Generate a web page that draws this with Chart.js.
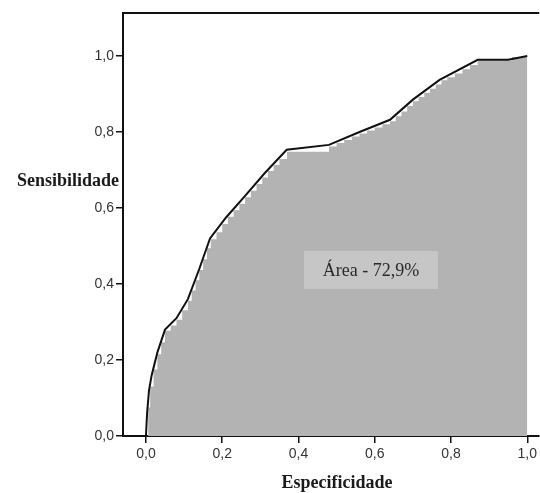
<!DOCTYPE html>
<html>
<head>
<meta charset="utf-8">
<script src="https://cdn.jsdelivr.net/npm/chart.js@4"></script>
<style>
  html, body { margin: 0; padding: 0; background: #fff; }
  #roc { display: block; }
</style>
</head>
<body>
<canvas id="roc" width="540" height="493"></canvas>
<script>
// curva ROC (linha preta)
const curvaX = [0, 0.003, 0.008, 0.015, 0.03, 0.05, 0.08, 0.11, 0.14, 0.168, 0.21, 0.26, 0.31, 0.369, 0.48, 0.56, 0.64, 0.70, 0.77, 0.87, 0.95, 1.0];
const curvaY = [0, 0.06, 0.12, 0.16, 0.22, 0.28, 0.31, 0.36, 0.44, 0.52, 0.575, 0.632, 0.69, 0.753, 0.766, 0.80, 0.832, 0.885, 0.937, 0.99, 0.99, 1.0];

// degraus da área cinza
const degrausX = [0.004, 0.006, 0.011, 0.02, 0.03, 0.04, 0.05,
  0.065, 0.08, 0.095, 0.11, 0.12, 0.13, 0.14, 0.15, 0.16, 0.17,
  0.185, 0.20, 0.215, 0.23, 0.245, 0.26, 0.275, 0.29, 0.305, 0.32, 0.335, 0.35, 0.37,
  0.48, 0.50, 0.52, 0.54, 0.56, 0.58, 0.60, 0.62, 0.64,
  0.655, 0.67, 0.685, 0.70, 0.715, 0.73, 0.745, 0.76, 0.775,
  0.79, 0.81, 0.83, 0.85, 0.87, 0.96, 1.0];
const degrausY = [0, 0.075, 0.13, 0.175, 0.215, 0.247, 0.277,
  0.291, 0.306, 0.331, 0.356, 0.383, 0.41, 0.437, 0.465, 0.494, 0.518,
  0.536, 0.558, 0.577, 0.594, 0.611, 0.628, 0.645, 0.663, 0.68, 0.697, 0.713, 0.729, 0.748,
  0.762, 0.771, 0.779, 0.788, 0.796, 0.804, 0.812, 0.82, 0.828,
  0.841, 0.854, 0.868, 0.881, 0.892, 0.903, 0.914, 0.925, 0.936,
  0.944, 0.954, 0.965, 0.976, 0.988, 0.997, 0.997];

const ticksValores = [0, 0.2, 0.4, 0.6, 0.8, 1.0];
const ticksRotulos = ['0,0', '0,2', '0,4', '0,6', '0,8', '1,0'];
const textoArea = 'Área - 72,9%';

const curva = curvaX.map((x, i) => ({ x: x, y: curvaY[i] }));
const degraus = degrausX.map((x, i) => ({ x: x, y: degrausY[i] }));

// moldura, títulos e caixa da área
const extras = {
  id: 'extras',
  afterDatasetsDraw(chart) {
    const ctx = chart.ctx;
    const xs = chart.scales.x, ys = chart.scales.y;
    const cx = xs.getPixelForValue(0.59), cy = ys.getPixelForValue(0.437);
    ctx.save();
    ctx.fillStyle = '#c6c6c6';
    ctx.fillRect(cx - 67, cy - 19, 134, 38);
    ctx.fillStyle = '#2a2a2a';
    ctx.font = '18px "Liberation Serif"';
    ctx.textAlign = 'center';
    ctx.textBaseline = 'middle';
    ctx.fillText(textoArea, cx, cy + 1);
    ctx.restore();
  },
  afterDraw(chart) {
    const ctx = chart.ctx;
    const a = chart.chartArea;
    ctx.save();
    ctx.strokeStyle = '#111';
    ctx.lineWidth = 2;
    ctx.beginPath();
    ctx.moveTo(a.left, a.top);
    ctx.lineTo(a.right, a.top);
    ctx.stroke();
    ctx.fillStyle = '#1a1a1a';
    ctx.font = 'bold 18px "Liberation Serif"';
    ctx.textBaseline = 'alphabetic';
    ctx.textAlign = 'right';
    ctx.fillText('Sensibilidade', 119, 186);
    ctx.textAlign = 'center';
    ctx.fillText('Especificidade', 337, 488);
    ctx.restore();
  }
};

const ctx = document.getElementById('roc').getContext('2d');
const chart = new Chart(ctx, {
  type: 'line',
  data: {
    datasets: [{
      label: 'ROC',
      data: curva,
      borderColor: '#111',
      borderWidth: 2,
      pointRadius: 0,
      fill: false,
      tension: 0
    }, {
      label: 'Área',
      data: degraus,
      stepped: 'before',
      borderColor: 'rgba(0,0,0,0)',
      borderWidth: 0,
      backgroundColor: '#b3b3b3',
      pointRadius: 0,
      fill: 'origin'
    }]
  },
  options: {
    responsive: false,
    animation: false,
    devicePixelRatio: 1,
    layout: { padding: { top: 13, left: 0, right: 0, bottom: 0 } },
    plugins: { legend: { display: false }, tooltip: { enabled: false } },
    scales: {
      x: {
        type: 'linear',
        min: -0.0602,
        max: 1.0314,
        afterFit: s => { s.height = 57; },
        afterBuildTicks: s => { s.ticks = ticksValores.map(v => ({ value: v })); },
        ticks: {
          callback: (v, i) => ticksRotulos[i],
          autoSkip: false,
          maxRotation: 0,
          padding: 3,
          color: '#333',
          font: { family: 'Liberation Sans', size: 14 }
        },
        grid: { drawOnChartArea: false, tickLength: 7, color: '#111', lineWidth: 1.5 },
        border: { display: true, color: '#111', width: 2 }
      },
      y: {
        min: 0,
        max: 1.113,
        afterFit: s => { s.width = 123; },
        afterBuildTicks: s => { s.ticks = ticksValores.map(v => ({ value: v })); },
        ticks: {
          callback: (v, i) => ticksRotulos[i],
          autoSkip: false,
          padding: 2,
          color: '#333',
          font: { family: 'Liberation Sans', size: 14 }
        },
        grid: { drawOnChartArea: false, tickLength: 7, color: '#111', lineWidth: 1.5 },
        border: { display: true, color: '#111', width: 2 }
      }
    }
  },
  plugins: [extras]
});
</script>
</body>
</html>
